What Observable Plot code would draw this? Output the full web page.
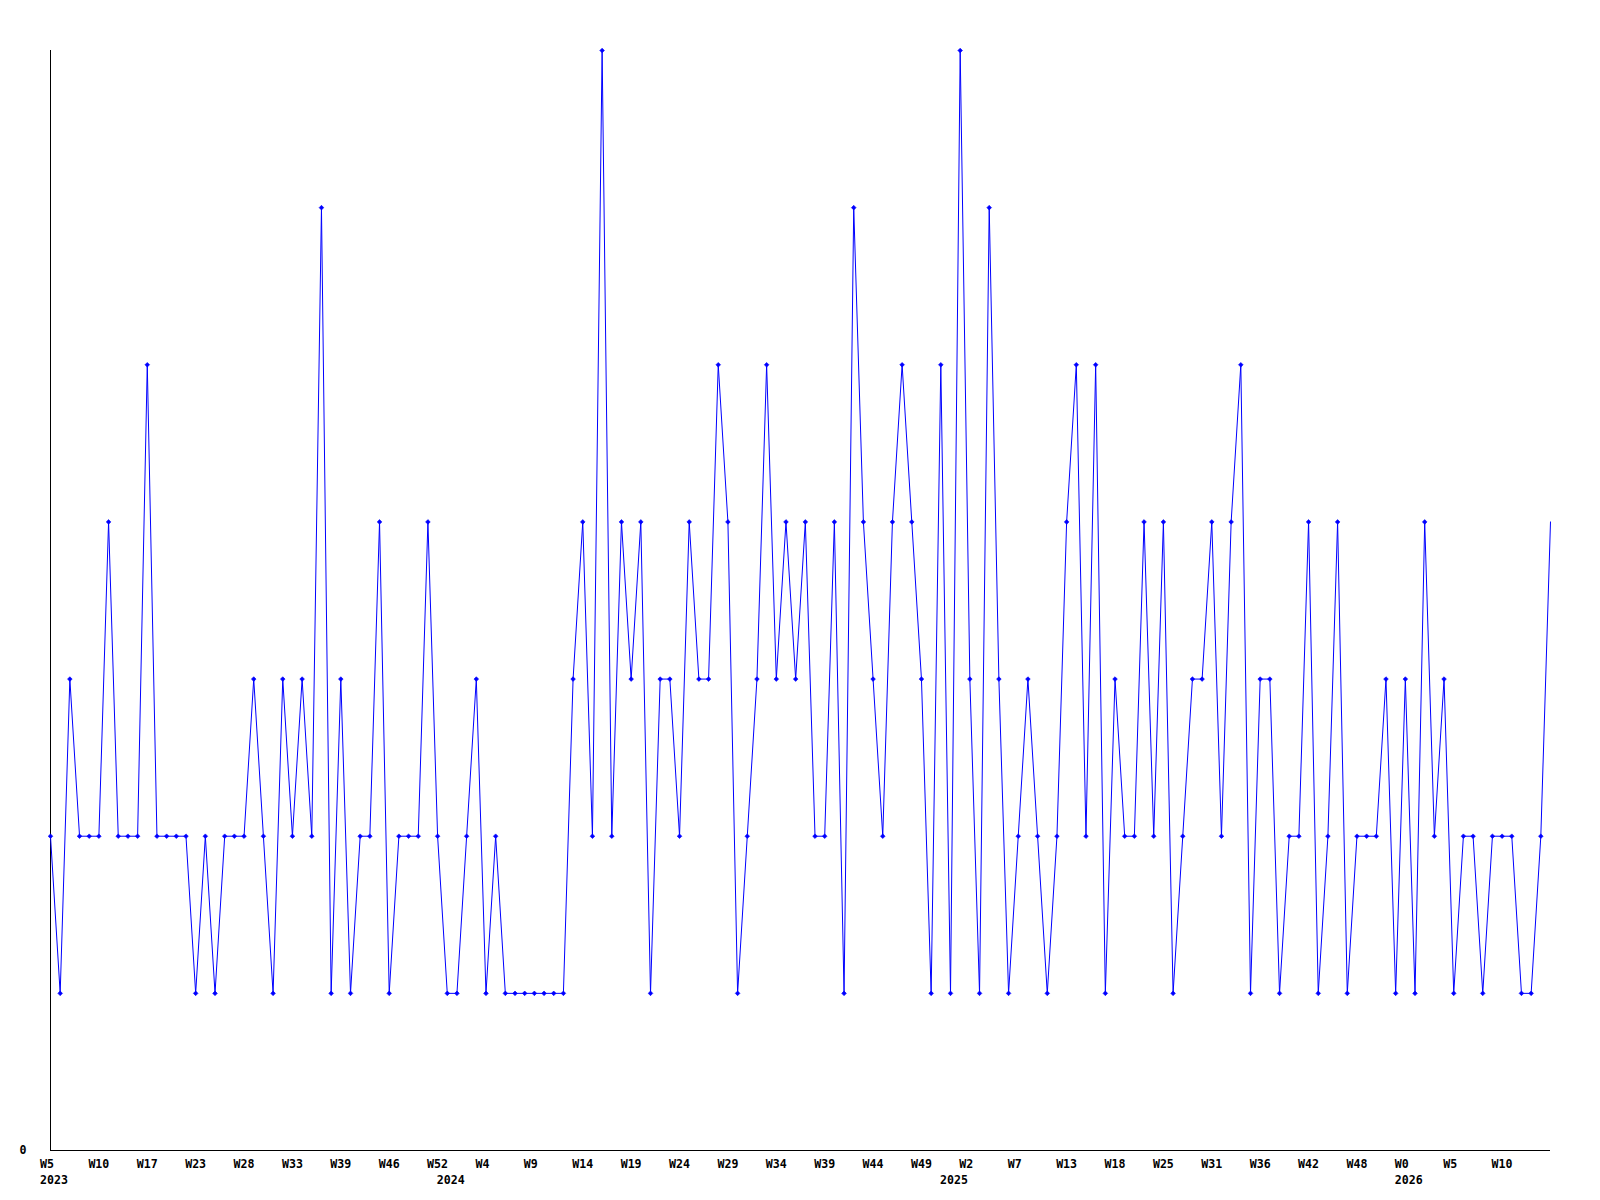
<!DOCTYPE html>
<html>
<head>
<meta charset="utf-8">
<script src="https://cdn.jsdelivr.net/npm/d3@7"></script>
<script src="https://cdn.jsdelivr.net/npm/@observablehq/plot@0.6"></script>
<style>
  html, body { margin: 0; padding: 0; background: #fff; }
  #chart svg { display: block; }
</style>
</head>
<body>
<div id="chart"></div>
<script>
// Weekly values, one per point (index 0 = W5 2023)
const values = [
  2,1,3,2,2,2,4,2,2,2,
  5,2,2,2,2,1,2,1,2,2,
  2,3,2,1,3,2,3,2,6,1,
  3,1,2,2,4,1,2,2,2,4,
  2,1,1,2,3,1,2,1,1,1,
  1,1,1,1,3,4,2,7,2,4,
  3,4,1,3,3,2,4,3,3,5,
  4,1,2,3,5,3,4,3,4,2,
  2,4,1,6,4,3,2,4,5,4,
  3,1,5,1,7,3,1,6,3,1,
  2,3,2,1,2,4,5,2,5,1,
  3,2,2,4,2,4,1,2,3,3,
  4,2,4,5,1,3,3,1,2,2,
  4,1,2,4,1,2,2,2,3,1,
  3,1,4,2,3,1,2,2,1,2,
  2,2,1,1,2,4
];

// Week tick labels, one every 5 points
const weekTickIndex = d3.range(0, 155, 5);
const weekLabels = [
  "W5","W10","W17","W23","W28","W33","W39","W46","W52",
  "W4","W9","W14","W19","W24","W29","W34","W39","W44","W49",
  "W2","W7","W13","W18","W25","W31","W36","W42","W48",
  "W0","W5","W10"
];

// Year labels at the first point of each year
const yearTickIndex = [0, 41, 93, 140];
const yearLabels = ["2023", "2024", "2025", "2026"];

const data = values.map((v, i) => ({i, v}));

const font = "'DejaVu Sans Mono', monospace";

const chart = Plot.plot({
  width: 1600,
  height: 1200,
  marginTop: 50,
  marginBottom: 50,
  marginLeft: 50,
  marginRight: 50,
  style: {fontFamily: font, fontSize: "11.6px", fontWeight: "bold", color: "#000", background: "#fff"},
  x: {domain: [0, 155]},
  y: {domain: [0, 7]},
  marks: [
    Plot.axisY({ticks: [0], tickFormat: d => String(d), tickSize: 0, tickPadding: 24, label: null, fontWeight: "bold"}),
    Plot.axisX({
      ticks: weekTickIndex,
      tickFormat: (d) => weekLabels[weekTickIndex.indexOf(d)],
      tickSize: 0, tickPadding: 9, textAnchor: "start", dx: -10.5, label: null, fontWeight: "bold"
    }),
    Plot.axisX({
      ticks: yearTickIndex,
      tickFormat: (d) => yearLabels[yearTickIndex.indexOf(d)],
      tickSize: 0, tickPadding: 25, textAnchor: "start", dx: -10.5, label: null, fontWeight: "bold"
    }),
    Plot.ruleX([0], {stroke: "#000", strokeWidth: 1}),
    Plot.ruleY([0], {stroke: "#000", strokeWidth: 1}),
    Plot.line(data, {x: "i", y: "v", stroke: "#0000ff", strokeWidth: 1}),
    Plot.dot(data.slice(0, -1), {x: "i", y: "v", symbol: "diamond2", r: 2.1, fill: "#0000ff", stroke: "#0000ff", strokeWidth: 0.6})
  ]
});

document.getElementById("chart").appendChild(chart);
</script>
</body>
</html>
